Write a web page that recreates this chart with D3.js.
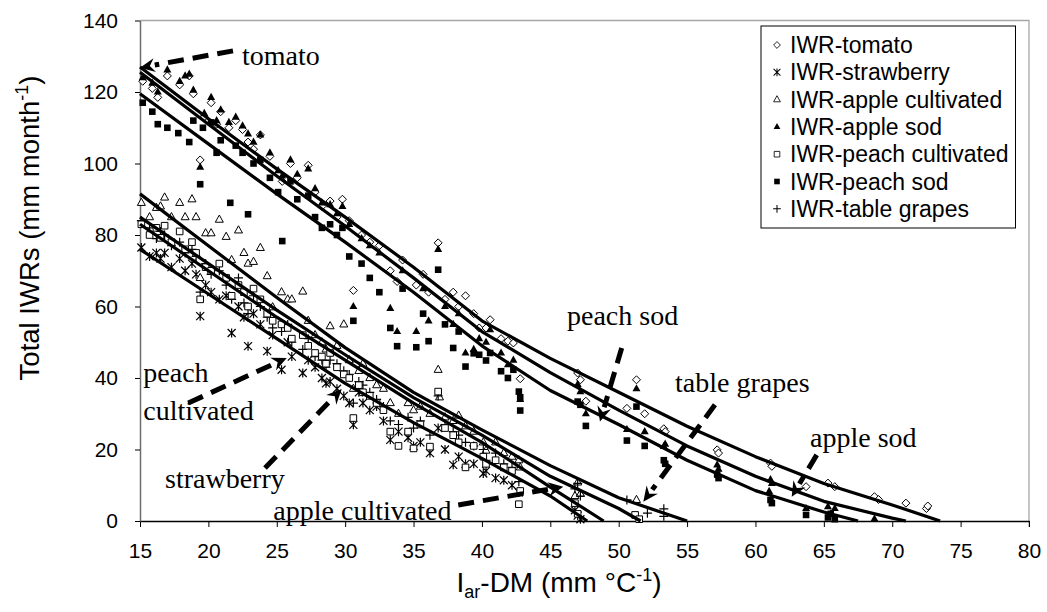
<!DOCTYPE html>
<html>
<head>
<meta charset="utf-8">
<script src="https://cdn.jsdelivr.net/npm/d3@7"></script>
<style>
    body { margin: 0; background: #fff; }
    svg { display: block; }
</style>
</head>
<body>
<svg id="chart" width="1047" height="612"></svg>
<script>
// axis ticks
var xTicks = [15, 20, 25, 30, 35, 40, 45, 50, 55, 60, 65, 70, 75, 80];
var yTicks = [0, 20, 40, 60, 80, 100, 120, 140];

// scatter points [Iar-DM, IWR]
var tomato = [[15.2,123],[15.9,121],[16.3,118.5],[17.0,124.5],[17.9,122],[18.6,124.5],[18.9,119.5],[19.4,101],[19.7,113],[20.2,117],[20.6,111],[20.9,114.5],[21.5,110],[22.0,112],[22.5,109.5],[22.9,106],[23.3,104],[23.8,108],[24.5,102],[25.1,97],[25.4,95],[26.0,100],[26.5,96],[27.3,99.5],[27.8,92],[28.3,88],[28.9,89.5],[29.4,85],[29.8,90],[30.3,84],[30.6,64.5],[31.2,80],[31.8,78],[32.5,77],[33.3,70],[33.8,67],[34.2,73],[35.2,66],[35.7,69],[36.1,64],[36.8,77.8],[37.3,62],[37.9,64],[38.3,60],[38.8,63],[39.4,58],[39.8,54],[40.3,54],[40.6,56.3],[41.4,51],[41.9,50.3],[42.3,49.8],[42.8,39.8],[47.0,41.4],[47.2,39.5],[47.6,33.5],[50.6,31.5],[51.3,39.5],[51.9,30],[53.3,25.8],[53.4,25],[57.2,19.9],[57.3,19],[61.1,16.2],[61.2,15.3],[63.7,9.6],[65.3,10.6],[65.8,9.6],[68.7,6.8],[69.0,6],[71.0,5],[72.5,3.5],[72.6,4.2]];
var strawberry = [[15.1,76.5],[15.7,74],[16.2,75],[16.5,73.4],[16.8,75],[17.3,71],[17.9,73.4],[18.3,70],[18.8,72],[19.1,69],[19.4,57.3],[19.8,66],[20.2,64],[20.8,62],[21.3,63],[21.7,52.6],[22.2,60],[22.6,57],[22.9,48.9],[23.3,58],[23.8,55],[24.3,47.5],[24.7,52],[25.35,42.3],[25.8,50],[26.1,46],[26.9,41.4],[27.3,45],[27.8,43],[28.3,40],[28.6,38.5],[28.9,39],[29.4,37],[29.9,35],[30.3,33],[30.6,26.9],[31.0,36],[31.3,33],[31.8,31],[32.3,32],[32.8,28],[33.3,22.7],[33.9,25],[34.6,23.3],[35.0,21],[35.5,22],[36.2,19],[36.8,26],[37.3,20],[37.9,15.7],[38.3,18],[38.8,16],[39.4,16],[40.1,13.3],[40.3,14],[41.0,12],[41.6,11.4],[42.2,10],[42.7,8],[46.8,3],[47.0,1.5],[47.2,0.5]];
var appleCultivated = [[15.1,89],[15.7,85],[16.2,87.6],[16.5,88],[16.8,90.5],[17.3,85],[17.9,89],[18.3,85],[18.8,90],[19.1,85],[19.4,68],[19.8,80.5],[20.2,80.5],[20.8,84.3],[21.3,79.5],[21.7,73],[22.2,81.3],[22.6,75],[22.9,72],[23.3,72.5],[23.8,76.4],[24.3,68.5],[24.7,59.8],[25.35,64],[25.8,62],[26.1,62],[26.9,64.2],[27.3,56],[27.8,52],[28.3,50],[28.6,48],[28.9,54.5],[29.4,49],[29.9,55],[30.3,45],[30.6,37],[31.0,42],[31.3,44],[31.8,40],[32.3,38],[32.8,37],[33.3,33],[33.9,30],[34.6,33],[35.0,31],[35.5,32],[36.2,30],[36.8,42.3],[36.9,34.6],[37.3,29],[37.9,28],[38.3,29.5],[38.8,26.5],[39.4,25],[40.1,22],[40.3,19.7],[41.0,22],[41.6,19],[42.2,18],[42.7,17],[42.8,15],[46.8,7],[47.0,10.8],[47.2,7.6],[51.3,5.9]];
var appleSod = [[15.2,124],[15.9,122.5],[16.3,120],[17.0,126.2],[17.9,123],[18.3,124.5],[18.6,125],[18.9,120.5],[19.4,99],[19.7,114],[20.2,118.5],[20.6,112],[20.9,115],[21.5,111.5],[22.0,113],[22.5,110.5],[22.9,108.3],[23.3,106],[23.8,108],[24.5,103],[25.1,98],[25.4,96.5],[26.0,101],[26.5,97],[27.3,98.5],[27.8,93],[28.3,89],[28.9,88.5],[29.4,86],[29.8,88],[30.3,83],[30.6,60],[31.2,79],[31.8,77],[32.5,75],[33.3,59.5],[33.8,53],[34.2,70],[35.2,53],[35.7,65],[36.1,56],[36.8,76],[37.3,60],[37.9,55],[38.3,58],[38.8,47],[39.4,48],[39.8,51],[40.3,50],[40.6,53.5],[41.4,47],[41.9,43.7],[42.3,45],[42.8,34],[47.0,38.2],[47.2,36.2],[47.6,30],[50.6,25.6],[51.3,37],[51.9,25],[53.3,20.9],[53.4,21.5],[57.2,15.7],[57.3,14.5],[61.0,8.3],[61.1,11.6],[61.2,10.5],[63.7,3.5],[65.3,4],[65.5,2],[65.8,3.5],[68.7,0.6]];
var peachCultivated = [[15.1,83],[15.7,80],[16.2,82],[16.5,79.2],[16.8,82.6],[17.3,78],[17.9,81],[18.3,76],[18.8,78],[19.1,75],[19.4,62],[19.8,71],[20.2,70],[20.8,72],[21.3,68],[21.7,63],[22.2,66],[22.6,64],[22.9,60],[23.3,65],[23.8,62],[24.3,58],[24.7,56],[25.35,55],[25.8,54],[26.1,51],[26.9,52],[27.3,49],[27.8,47],[28.3,46],[28.6,44],[28.9,47],[29.4,43],[29.9,41],[30.3,40],[30.6,28.8],[31.0,38],[31.3,36],[31.8,35],[32.3,33],[32.8,31],[33.3,25],[33.9,21],[34.6,25],[35.0,20.3],[35.5,27],[36.2,20.8],[36.8,36.2],[37.3,26],[37.9,24],[38.3,22],[38.8,15],[39.4,21],[40.1,18],[40.3,16],[41.0,17],[41.6,15],[42.2,14],[42.7,4.7],[42.8,8.4],[46.8,5],[47.0,2],[51.2,1.7],[51.5,0.5]];
var peachSod = [[15.2,117],[15.9,114.5],[16.3,111],[17.0,110],[17.8,108.5],[18.6,106],[18.9,112],[19.4,94.2],[19.6,110],[20.2,111.5],[20.6,103],[20.9,106.5],[21.6,89],[22.0,105],[22.5,103],[22.9,85.8],[23.3,100],[23.8,101],[24.5,96],[25.1,92],[25.4,78.3],[26.0,95],[26.5,90],[27.3,91],[27.8,85],[28.3,82],[28.9,83],[29.4,80],[29.8,82],[30.3,74],[30.6,56],[31.2,72],[31.8,68],[32.5,64],[33.3,54],[33.8,48.9],[34.2,65],[35.2,48.6],[35.7,58],[36.1,50.3],[36.8,70.3],[37.3,55],[37.9,48.4],[38.3,53],[38.8,43.2],[39.4,46.9],[39.8,46.5],[40.3,44.9],[40.6,47],[41.4,41.9],[41.9,40],[42.3,42.3],[42.7,36.2],[42.8,30.9],[42.8,34.6],[47.0,33.4],[47.2,32.5],[47.6,26.6],[50.6,22.5],[51.3,32],[51.9,21],[53.3,17],[53.4,16],[57.2,13],[57.3,12],[61.1,5.9],[61.2,5],[63.7,1.7],[65.3,1],[65.5,2],[65.8,0.5]];
var tableGrapes = [[15.1,84],[15.7,82],[16.2,79],[16.5,81],[16.8,80],[17.3,77],[17.9,78],[18.3,75],[18.8,76],[19.1,74],[19.4,64],[19.8,72],[20.2,69],[20.8,70],[21.3,66],[21.7,62],[22.2,68],[22.6,61],[22.9,58],[23.3,63],[23.8,60],[24.3,57],[24.7,54],[25.35,53],[25.8,55],[26.1,50],[26.9,48],[27.3,51],[27.8,46],[28.3,45],[28.6,43],[28.9,45],[29.4,44],[29.9,42],[30.3,41],[30.6,33],[31.0,39],[31.3,38],[31.8,36],[32.3,34],[32.8,32],[33.3,28],[33.9,27],[34.6,29],[35.0,26],[35.5,28],[36.2,24],[36.8,35],[37.3,27],[37.9,25],[38.3,24],[38.8,22],[39.4,21],[40.1,20],[40.3,17],[41.0,19],[41.6,16],[42.2,15],[42.7,11],[46.8,9],[47.0,10.5],[47.2,7],[50.6,5.9],[52.1,2.2],[53.3,3.4],[53.3,1.3]];

// fitted curves
var fitTomato = [[15,127],[20,112.5],[25,98.5],[30,85],[35,71],[40,56],[45,45.5],[50,36],[55,26.5],[60,18],[65,10.5],[70,4.5],[73.5,0]];
var fitAppleSod = [[15,125.5],[20,111],[25,96.5],[30,82.5],[35,68],[40,53],[45,41.5],[50,31],[55,21],[60,12.5],[65,5.5],[70,0.8],[71,0]];
var fitPeachSod = [[15,119.5],[20,105.5],[25,91.5],[30,78],[35,64],[40,49],[45,36.5],[50,27],[55,17],[60,8.5],[65,2.5],[67.5,0]];
var fitAppleCultivated = [[15,91.5],[20,77],[25,62.5],[30,48.5],[35,36],[40,25.5],[45,15.5],[50,6.5],[55,0]];
var fitTableGrapes = [[15,85],[20,72],[25,59],[30,46.5],[35,34.5],[40,24],[45,12.5],[50,3.5],[51.6,0]];
var fitPeachCultivated = [[15,83],[20,70],[25,57],[30,45],[35,33],[40,22],[45,9.5],[48.9,0]];
var fitStrawberry = [[15,76],[20,63.5],[25,51],[30,38.5],[35,27.5],[40,17.5],[45,7],[47.7,0]];

var legendNames = ["IWR-tomato", "IWR-strawberry", "IWR-apple cultivated", "IWR-apple sod",
    "IWR-peach cultivated", "IWR-peach sod", "IWR-table grapes"];
var legendMarkers = ["diamond", "asterisk", "triangleOpen", "triangle", "squareOpen", "square", "plus"];

// annotation labels: text lines, text position, arrow tail, arrow tip (data units)
var noteText = [["tomato"], ["peach sod"], ["table grapes"], ["apple sod"], ["peach", "cultivated"], ["strawberry"], ["apple cultivated"]];
var notePos = [[22.46, 127.5], [46.22, 54.9], [54.12, 36.2], [63.99, 20.7], [15.24, 39.0], [16.83, 9.16], [24.75, 0.28]];
var noteTail = [[21.8, 131.5], [50.22, 48.4], [57.04, 32.5], [64.48, 18.5], [18.53, 33], [24.14, 14.8], [38.27, 4.5]];
var noteTip = [[15, 126.8], [48.63, 27.8], [51.8, 5.4], [62.65, 6.8], [25.73, 45.6], [29.75, 36.9], [45.95, 9.6]];

var svg = d3.select("#chart");
var x = d3.scaleLinear().domain([15, 80]).range([140, 1029]);
var y = d3.scaleLinear().domain([0, 140]).range([521, 20.5]);

function markerPath(type) {
    switch (type) {
        case "diamond": return "M0,-4L4,0L0,4L-4,0Z";
        case "triangle":
        case "triangleOpen": return "M0,-4.6L4,2.6L-4,2.6Z";
        case "square":
        case "squareOpen": return "M-3.3,-3.3h6.6v6.6h-6.6Z";
        case "asterisk": return "M-4,-4L4,4M-4,4L4,-4M0,-4.5V4.5";
        case "plus": return "M-4.5,0H4.5M0,-4.5V4.5";
    }
}
function styleMarker(sel, type) {
    if (type == "triangle" || type == "square") {
        sel.attr("fill", "#000").attr("stroke", "none");
    } else if (type == "asterisk" || type == "plus") {
        sel.attr("fill", "none").attr("stroke", "#000").attr("stroke-width", 1.2);
    } else {
        sel.attr("fill", "#fff").attr("stroke", "#000").attr("stroke-width", 1);
    }
}

// plot area border (top, right)
svg.append("path")
    .attr("d", "M" + x(15) + "," + y(140) + "H" + x(80) + "V" + (y(0) + 6))
    .attr("fill", "none").attr("stroke", "#a6a6a6").attr("stroke-width", 1.3);

// axes
var xAxis = svg.append("g").attr("transform", "translate(0," + y(0) + ")")
    .call(d3.axisBottom(x).tickValues(xTicks).tickSize(6).tickPadding(16).tickSizeOuter(0));
var yAxis = svg.append("g").attr("transform", "translate(" + x(15) + ",0)")
    .call(d3.axisLeft(y).tickValues(yTicks).tickSize(5).tickPadding(17).tickSizeOuter(0));
xAxis.select(".domain").attr("stroke", "#000").attr("stroke-width", 1.5);
yAxis.select(".domain").attr("stroke", "#6d6d6d").attr("stroke-width", 1.5);
xAxis.selectAll("line").attr("stroke", "#000");
yAxis.selectAll("line").attr("stroke", "#000");
svg.selectAll(".tick text").attr("font-family", "Liberation Sans, Arial, sans-serif")
    .attr("font-size", 21).attr("fill", "#000");

// axis titles
var xt = svg.append("text").attr("x", 559).attr("y", 592).attr("text-anchor", "middle")
    .attr("font-family", "Liberation Sans, Arial, sans-serif").attr("font-size", 28);
xt.append("tspan").text("I");
xt.append("tspan").attr("font-size", 18).attr("dy", 6).text("ar");
xt.append("tspan").attr("dy", -6).text("-DM (mm °C");
xt.append("tspan").attr("font-size", 18).attr("dy", -11).text("-1");
xt.append("tspan").attr("dy", 11).text(")");

var yt = svg.append("text").attr("transform", "translate(39,228) rotate(-90)").attr("text-anchor", "middle")
    .attr("font-family", "Liberation Sans, Arial, sans-serif").attr("font-size", 27.5);
yt.append("tspan").text("Total IWRs (mm month");
yt.append("tspan").attr("font-size", 18).attr("dy", -11).text("-1");
yt.append("tspan").attr("dy", 11).text(")");

// scatter
var series = [
    {data: tomato, type: "diamond"},
    {data: strawberry, type: "asterisk"},
    {data: appleCultivated, type: "triangleOpen"},
    {data: tableGrapes, type: "plus"},
    {data: peachCultivated, type: "squareOpen"},
    {data: appleSod, type: "triangle"},
    {data: peachSod, type: "square"}
];
series.forEach(function (s) {
    var pts = svg.append("g").selectAll("path").data(s.data).enter().append("path")
        .attr("d", markerPath(s.type))
        .attr("transform", function (d) { return "translate(" + x(d[0]) + "," + y(d[1]) + ")"; });
    styleMarker(pts, s.type);
});

// fitted lines
var line = d3.line().x(function (d) { return x(d[0]); }).y(function (d) { return y(d[1]); });
[fitTomato, fitAppleSod, fitPeachSod, fitAppleCultivated, fitTableGrapes, fitPeachCultivated, fitStrawberry]
    .forEach(function (f) {
        svg.append("path").attr("d", line(f)).attr("fill", "none")
            .attr("stroke", "#000").attr("stroke-width", 3.2).attr("stroke-linejoin", "round");
    });

// annotations
var notes = svg.append("g");
for (var i = 0; i < noteText.length; i++) {
    var t = notes.append("text").attr("x", x(notePos[i][0])).attr("y", y(notePos[i][1]))
        .attr("font-family", "Liberation Serif, Times New Roman, serif").attr("font-size", 28).attr("fill", "#000");
    noteText[i].forEach(function (s, k) {
        t.append("tspan").attr("x", x(notePos[i][0])).attr("dy", k == 0 ? 0 : 38.3).text(s);
    });
    var x0 = x(noteTail[i][0]), y0 = y(noteTail[i][1]);
    var x1 = x(noteTip[i][0]), y1 = y(noteTip[i][1]);
    var len = Math.sqrt((x1 - x0) * (x1 - x0) + (y1 - y0) * (y1 - y0));
    var ux = (x1 - x0) / len, uy = (y1 - y0) / len;
    var bx = x1 - ux * 15, by = y1 - uy * 15;
    notes.append("line").attr("x1", x0).attr("y1", y0).attr("x2", bx).attr("y2", by)
        .attr("stroke", "#000").attr("stroke-width", 5).attr("stroke-dasharray", "16,9");
    notes.append("path")
        .attr("d", "M" + x1 + "," + y1 + "L" + (bx - uy * 7) + "," + (by + ux * 7) +
            "L" + (x1 - ux * 10) + "," + (y1 - uy * 10) + "L" + (bx + uy * 7) + "," + (by - ux * 7) + "Z")
        .attr("fill", "#000");
}

// legend
var legend = svg.append("g");
legend.append("rect").attr("x", 761).attr("y", 26).attr("width", 254.5).attr("height", 202)
    .attr("fill", "#fff").attr("stroke", "#000").attr("stroke-width", 1);
legendNames.forEach(function (name, i) {
    var cy = 45 + i * 27.3;
    var m = legend.append("path").attr("d", markerPath(legendMarkers[i]))
        .attr("transform", "translate(777," + cy + ") scale(0.85)");
    styleMarker(m, legendMarkers[i]);
    legend.append("text").attr("x", 790).attr("y", cy + 8).text(name)
        .attr("font-family", "Liberation Sans, Arial, sans-serif").attr("font-size", 23).attr("fill", "#000");
});
</script>
</body>
</html>
